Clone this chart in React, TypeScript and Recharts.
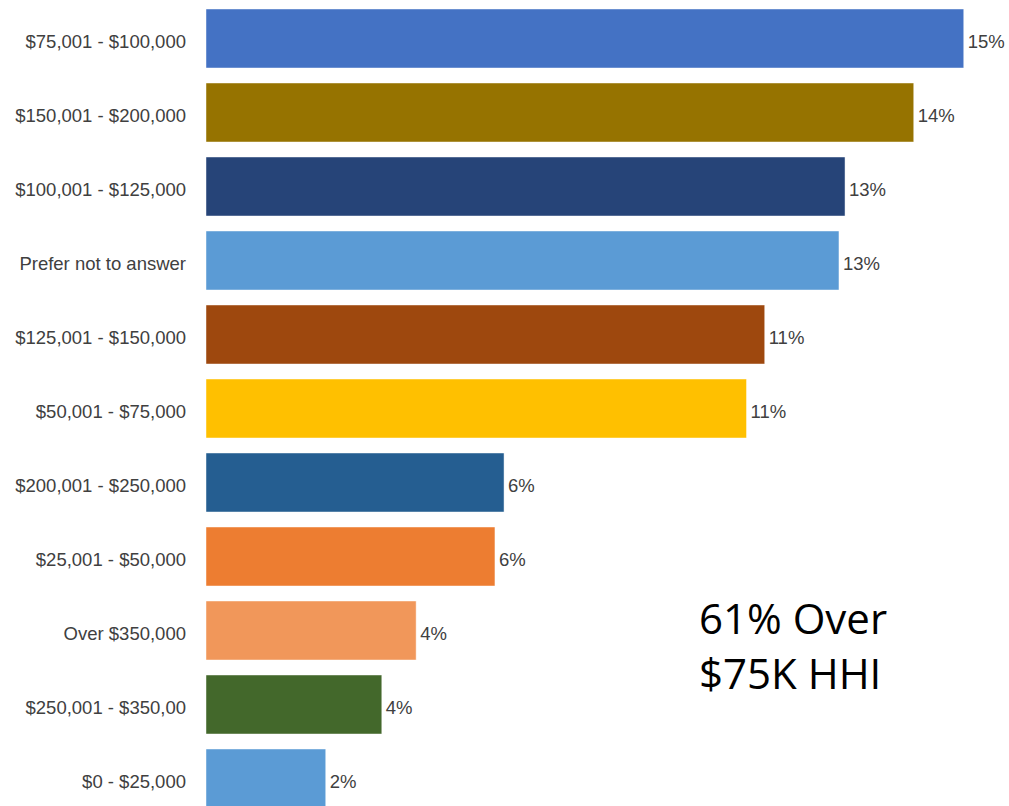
import React from "react";
import { BarChart, Bar, XAxis, YAxis, Cell, LabelList } from "recharts";

const categories = [
  "$75,001 - $100,000",
  "$150,001 - $200,000",
  "$100,001 - $125,000",
  "Prefer not to answer",
  "$125,001 - $150,000",
  "$50,001 - $75,000",
  "$200,001 - $250,000",
  "$25,001 - $50,000",
  "Over $350,000",
  "$250,001 - $350,00",
  "$0 - $25,000",
];

const shares = [15.0, 14.01, 12.65, 12.53, 11.06, 10.7, 5.9, 5.72, 4.16, 3.48, 2.37];

const valueLabels = ["15%", "14%", "13%", "13%", "11%", "11%", "6%", "6%", "4%", "4%", "2%"];

const barColors = [
  "#4472C4",
  "#967300",
  "#264478",
  "#5B9BD5",
  "#9E480E",
  "#FFC000",
  "#255E91",
  "#ED7D31",
  "#F1975A",
  "#43682B",
  "#5B9BD5",
];

const noteLines = ["61% Over", "$75K HHI"];

const data = categories.map((c, i) => ({ name: c, value: shares[i], label: valueLabels[i] }));

const textColor = "#404040";
const font = "'Liberation Sans', Arial, sans-serif";

export default function App() {
  return (
    <div
      style={{
        position: "absolute",
        left: 0,
        top: 0,
        width: 1009,
        height: 806,
        overflow: "hidden",
        background: "#ffffff",
      }}
    >
      <BarChart
        width={1009}
        height={815}
        data={data}
        layout="vertical"
        margin={{ top: 1, right: 20, bottom: 0, left: 0 }}
        barSize={59}
      >
        <XAxis type="number" domain={[0, 15.5]} hide />
        <YAxis
          type="category"
          dataKey="name"
          width={206}
          axisLine={false}
          tickLine={false}
          tickSize={0}
          tickMargin={20}
          interval={0}
          tick={{ fill: textColor, fontSize: 18.5, fontFamily: font, dy: 3 }}
        />
        <Bar dataKey="value" isAnimationActive={false} stroke="#ffffff" strokeOpacity={0.45} strokeWidth={1}>
          {data.map((d, i) => (
            <Cell key={d.name} fill={barColors[i]} />
          ))}
          <LabelList
            dataKey="label"
            position="right"
            offset={4}
            fill={textColor}
            fontSize={18.5}
            fontFamily={font}
            dy={3}
          />
        </Bar>
      </BarChart>
      <svg
        width={1009}
        height={806}
        style={{ position: "absolute", left: 0, top: 0, pointerEvents: "none" }}
      >
        {noteLines.map((t, i) => (
          <text
            key={t}
            x={699}
            y={634 + i * 55}
            fontSize={42}
            fontFamily="'Open Sans', sans-serif"
            fill="#000000"
          >
            {t}
          </text>
        ))}
      </svg>
    </div>
  );
}
